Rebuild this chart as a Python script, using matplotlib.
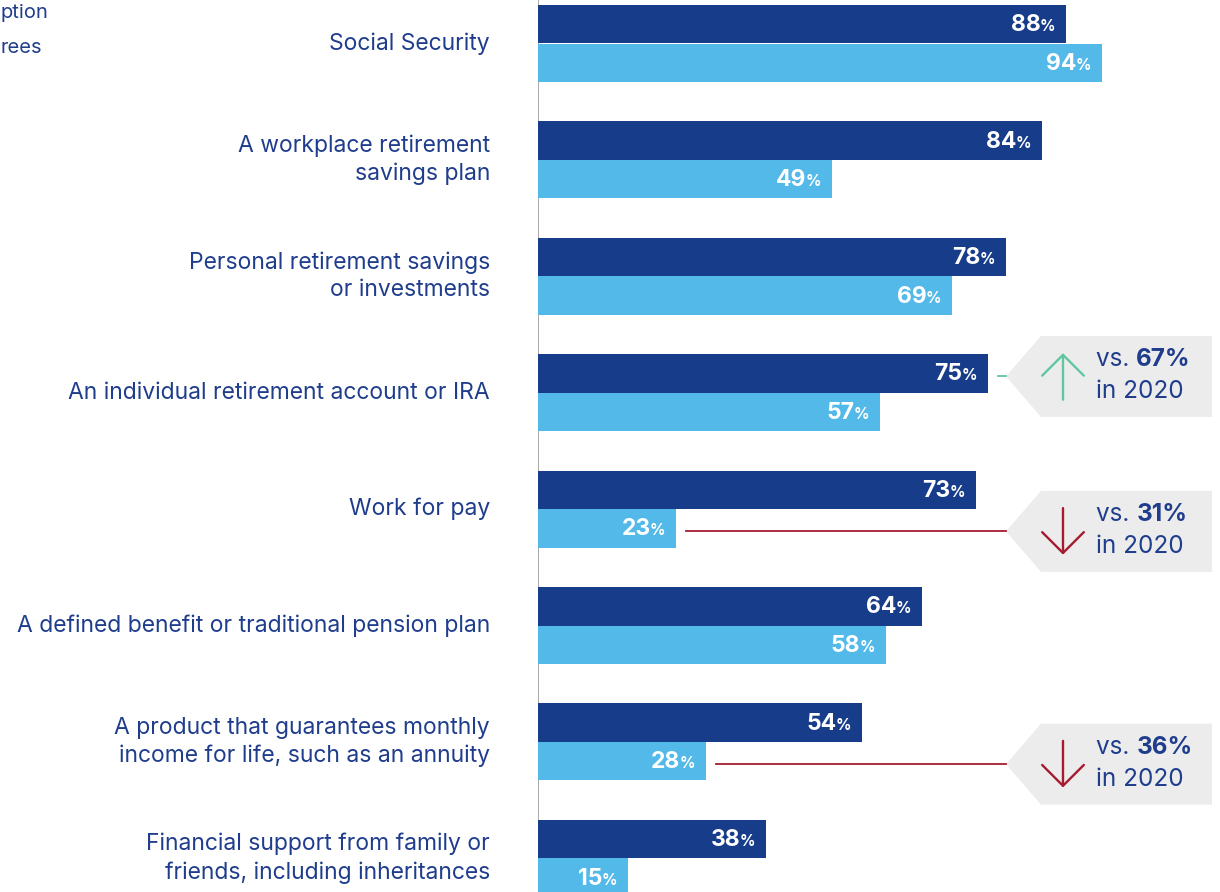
import matplotlib.pyplot as plt
from matplotlib.patches import Polygon

plt.rcParams['font.family'] = ['Inter', 'DejaVu Sans']

categories = [
    "Social Security",
    "A workplace retirement\nsavings plan",
    "Personal retirement savings\nor investments",
    "An individual retirement account or IRA",
    "Work for pay",
    "A defined benefit or traditional pension plan",
    "A product that guarantees monthly\nincome for life, such as an annuity",
    "Financial support from family or\nfriends, including inheritances",
]
workers = [88, 84, 78, 75, 73, 64, 54, 38]
retirees = [94, 49, 69, 57, 23, 58, 28, 15]

# rows with a comparison to the 2020 survey
callout_rows = [3, 4, 6]
callout_series = ["workers", "retirees", "retirees"]
callout_2020 = [67, 31, 36]
legend_labels = ["ption", "rees"]

DARK = "#173c8a"
LIGHT = "#53b9e9"
NAVY = "#1f3d8c"
GREEN = "#62c6a0"
RED = "#a51c30"
BOX = "#ececec"

W, H = 1220, 892
PX_PER_PCT = 6.0
ROW_PX = 116.4
BAR_H = 0.331

fig = plt.figure(figsize=(W / 100, H / 100), dpi=100)
ax = fig.add_axes([538 / W, 0, 1 - 538 / W, 1])
ax.set_xlim(0, (W - 538) / PX_PER_PCT)
ax.set_ylim((H - 43.5) / ROW_PX, -43.5 / ROW_PX)
ax.axis("off")
ax.axvline(0, color="#9a9a9a", lw=1.2, zorder=0)

rows = range(len(categories))
ax.barh([i - BAR_H / 2 for i in rows], workers, height=BAR_H, color=DARK, zorder=2)
ax.barh([i + BAR_H / 2 for i in rows], retirees, height=BAR_H, color=LIGHT, zorder=2)

fig.canvas.draw()
renderer = fig.canvas.get_renderer()


def value_label(val, y):
    pct = ax.annotate("%", (val, y), xytext=(-11, -7), textcoords="offset pixels",
                      ha="right", va="baseline", color="white",
                      fontsize=11, fontweight="bold", zorder=3)
    w = pct.get_window_extent(renderer=renderer).width
    ax.annotate(str(val), (val, y), xytext=(-10 - w, -7), textcoords="offset pixels",
                ha="right", va="baseline", color="white",
                fontsize=16.5, fontweight="bold", zorder=3)


for i in rows:
    value_label(workers[i], i - BAR_H / 2)
    value_label(retirees[i], i + BAR_H / 2)
    ax.annotate(categories[i], (0, i), xytext=(-48, 0), textcoords="offset pixels",
                ha="right", va="center", color=NAVY, fontsize=16.5,
                linespacing=1.33)

# comparison callouts on the right
tip_x = (1006 - 538) / PX_PER_PCT
corner_x = (1041 - 538) / PX_PER_PCT
right_x = (1212 - 538) / PX_PER_PCT
half_h = 40.5 / ROW_PX
for row, series, old in zip(callout_rows, callout_series, callout_2020):
    if series == "workers":
        val, yc = workers[row], row - BAR_H / 2
    else:
        val, yc = retirees[row], row + BAR_H / 2
    up = val > old
    col = GREEN if up else RED
    yb = yc + 3 / ROW_PX
    ax.add_patch(Polygon([(tip_x, yb), (corner_x, yb - half_h), (right_x, yb - half_h),
                          (right_x, yb + half_h), (corner_x, yb + half_h)],
                         closed=True, facecolor=BOX, edgecolor="none", zorder=1,
                         clip_on=False))
    ax.plot([val + 10 / PX_PER_PCT, tip_x], [yb, yb], color=col, lw=1.3, zorder=1)
    ax_x = (1063 - 538) / PX_PER_PCT
    a0, a1 = yb + 0.2, yb - 0.2
    if not up:
        a0, a1 = a1, a0
    ax.annotate("", xy=(ax_x, a1), xytext=(ax_x, a0),
                arrowprops=dict(arrowstyle="->,head_length=0.75,head_width=0.75",
                                color=col, lw=1.7, mutation_scale=20,
                                shrinkA=0, shrinkB=0), zorder=3)
    tx = (1096 - 538) / PX_PER_PCT
    vs = ax.text(tx, yb - 17 / ROW_PX, "vs. ", ha="left", va="center",
                 color=NAVY, fontsize=17.5, zorder=3)
    w = vs.get_window_extent(renderer=renderer).width
    ax.annotate(f"{old}%", (tx, yb - 17 / ROW_PX), xytext=(w, 0),
                textcoords="offset pixels", ha="left", va="center",
                color=NAVY, fontsize=17.5, fontweight="bold", zorder=3)
    ax.text(tx, yb + 15 / ROW_PX, "in 2020", ha="left", va="center",
            color=NAVY, fontsize=17.5, zorder=3)

# legend entries, cut at the left edge
fig.text(0, 1 - 13 / H, legend_labels[0], ha="left", va="center",
         color=NAVY, fontsize=14.5)
fig.text(0, 1 - 48 / H, legend_labels[1], ha="left", va="center",
         color=NAVY, fontsize=14.5)

fig.savefig("out.png", dpi=100)
